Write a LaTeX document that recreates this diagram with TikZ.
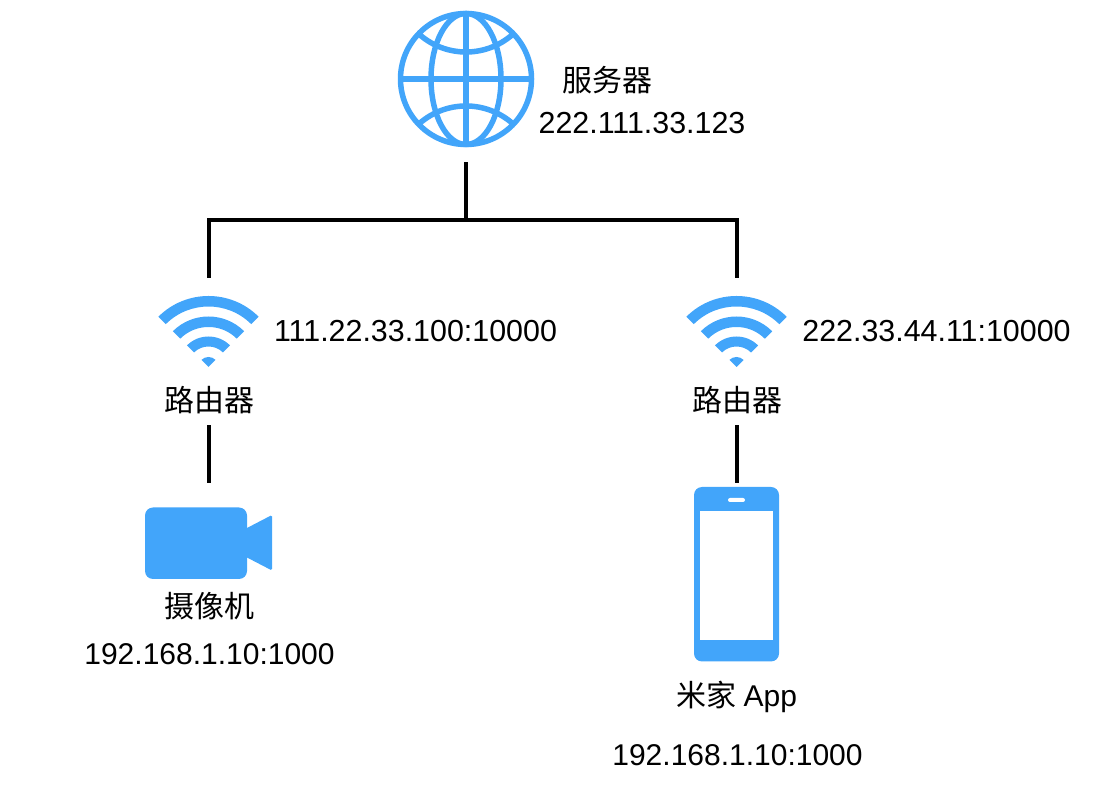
\documentclass[tikz,border=0pt]{standalone}
\usepackage{fontspec}
\setmainfont{Liberation Sans}
\newfontfamily\cjk{Noto Sans CJK SC}
\usepackage{tikz}
\usetikzlibrary{calc}
\definecolor{iconblue}{RGB}{66,165,250}
\tikzset{
    wire/.style={line width=4pt,color=black},
    label/.style={inner sep=0pt,font=\fontsize{30}{36}\selectfont},
    wanlabel/.style={inner sep=0pt,font=\fontsize{30.4}{36}\selectfont},
    iconbox/.style={inner sep=0pt,minimum width=100pt},
    globe/.pic={
        \draw[iconblue,line width=5.5pt] (0,0) circle (65.5);
        \draw[iconblue,line width=5.5pt] (0,0) ellipse (35 and 65.5);
        \draw[iconblue,line width=5.5pt] (0,65.5) -- (0,-65.5);
        \draw[iconblue,line width=5.5pt] (-65.5,0) -- (65.5,0);
        \draw[iconblue,line width=5.5pt] (-46,44) arc[start angle=229.4,end angle=310.6,radius=70.7];
        \draw[iconblue,line width=5.5pt] (-46,-44) arc[start angle=130.6,end angle=49.4,radius=70.7];
    },
    wifi/.pic={
        \foreach \ra/\rb in {60.5/71,40/50.5,20.5/30.5}
        \fill[iconblue] (45:\ra) arc[start angle=45,end angle=135,radius=\ra]
            -- (135:\rb) arc[start angle=135,end angle=45,radius=\rb] -- cycle;
        \fill[iconblue] (0,0) -- (45:10) arc[start angle=45,end angle=135,radius=10] -- cycle;
    },
}
\begin{document}
\begin{tikzpicture}[x=1pt,y=1pt]
    \useasboundingbox (0,0) rectangle (1094,808);
    % icons
    \pic at (466,729) {globe};
    \pic at (208.5,441) {wifi};
    \pic at (736.5,441) {wifi};
    % camera
    \fill[iconblue,rounded corners=8pt] (145,229) rectangle (247,300.5);
    \fill[iconblue,rounded corners=1.5pt] (246,279.5) -- (272,293) -- (272,237.5) -- (246,251) -- cycle;
    % phone
    \fill[iconblue,rounded corners=8pt] (694,146.5) rectangle (779,321);
    \fill[white] (700,167.5) rectangle (773,297);
    \fill[white,rounded corners=2pt] (728,306) rectangle (745,310);
    % nodes
    \node[iconbox,minimum height=166pt] (server) at (466,729) {};
    \node[iconbox,minimum height=100pt] (wifia) at (209,480) {};
    \node[iconbox,minimum height=100pt] (wifib) at (737,480) {};
    \node[iconbox,minimum height=50pt,label] (routera) at (209,408) {\cjk 路由器};
    \node[iconbox,minimum height=50pt,label] (routerb) at (737,408) {\cjk 路由器};
    \node[iconbox,minimum height=96pt] (camera) at (209,277) {};
    \node[iconbox,minimum height=96pt] (phone) at (737,277) {};
    \coordinate (hub) at (466,588);
    % texts
    \node[label] (servername) at (607,728) {\cjk 服务器};
    \node[wanlabel] (serverip) at (642,685) {222.111.33.123};
    \node[wanlabel] (wifiaip) at (415.5,477) {111.22.33.100:10000};
    \node[wanlabel] (wifibip) at (936.5,477) {222.33.44.11:10000};
    \node[label] (cameraname) at (209,202) {\cjk 摄像机};
    \node[label] (cameraip) at (209.5,154) {192.168.1.10:1000};
    \node[label] (phonename) at (737,111) {\cjk 米家\ \rmfamily App};
    \node[label] (phoneip) at (737.5,53) {192.168.1.10:1000};
    % wires
    \draw[wire] (server.south) -- (hub);
    \draw[wire] (wifia.north) |- (hub) -| (wifib.north);
    \draw[wire] (routera.south) -- (camera.north);
    \draw[wire] (routerb.south) -- (phone.north);
\end{tikzpicture}
\end{document}
